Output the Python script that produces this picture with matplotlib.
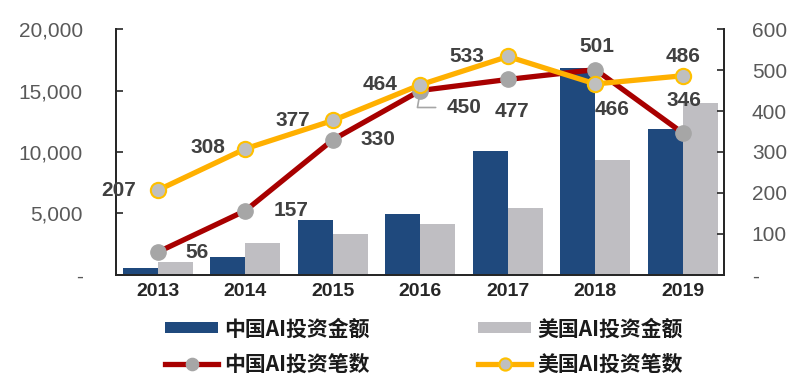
import matplotlib
matplotlib.use("Agg")
import matplotlib.pyplot as plt
import numpy as np
from matplotlib.ticker import FuncFormatter, MultipleLocator

years = ["2013", "2014", "2015", "2016", "2017", "2018", "2019"]
cn_amount = [570, 1440, 4470, 4930, 10100, 16800, 11850]
us_amount = [1080, 2580, 3310, 4120, 5420, 9350, 14000]
cn_count = [56, 157, 330, 450, 477, 501, 346]
us_count = [207, 308, 377, 464, 533, 466, 486]
legend_labels = ["中国AI投资金额", "美国AI投资金额", "中国AI投资笔数", "美国AI投资笔数"]

# label offsets (pixels)
cn_off = [(39, 0), (46, 0), (45, 0), (44, -17), (4, -32), (2, 23), (1, 33)]
us_off = [(-39, 0), (-38, 1), (-40, 0), (-40, 0), (-41, 0), (17, -26), (0, 19)]

fig = plt.figure(figsize=(8, 3.92), dpi=100)
ax = fig.add_axes([0.145, 0.2985, 0.76, 0.6275])
ax2 = ax.twinx()

x = np.arange(len(years))
w = 0.4
b1 = ax.bar(x - w / 2, cn_amount, w, color="#1f497d", label=legend_labels[0], zorder=2)
b2 = ax.bar(x + w / 2, us_amount, w, color="#bfbec2", label=legend_labels[1], zorder=2)

l1, = ax2.plot(x, cn_count, color="#a80000", lw=3.8, marker="o", ms=11,
               mfc="#a6a6a6", mec="#a6a6a6", label=legend_labels[2], zorder=3)
l2, = ax2.plot(x, us_count, color="#ffb000", lw=3.8, marker="o", ms=11,
               mfc="#bfbfbf", mec="#ffc000", mew=1.5, label=legend_labels[3], zorder=4)

num_font = dict(family="Liberation Sans", fontsize=15, fontweight="bold", color="#404040")
for i, v in enumerate(cn_count):
    ax2.annotate(str(v), (x[i], v), xytext=cn_off[i], textcoords="offset pixels",
                 ha="center", va="center", zorder=5, **num_font)
for i, v in enumerate(us_count):
    ax2.annotate(str(v), (x[i], v), xytext=us_off[i], textcoords="offset pixels",
                 ha="center", va="center", zorder=5, **num_font)

# small leader line for the 2016 China label
ax2.annotate("", xy=(x[3], cn_count[3]), xytext=(18, -17), textcoords="offset pixels",
             arrowprops=dict(arrowstyle="-", color="#a6a6a6", lw=1.2,
                             connectionstyle="angle,angleA=0,angleB=80,rad=0"),
             zorder=2)

ax.set_xlim(-0.48, 6.47)
ax.set_ylim(0, 20000)
ax2.set_ylim(0, 600)
ax.yaxis.set_major_locator(MultipleLocator(5000))
ax2.yaxis.set_major_locator(MultipleLocator(100))
ax.yaxis.set_major_formatter(FuncFormatter(lambda v, p: "-" if v == 0 else f"{int(v):,}"))
ax2.yaxis.set_major_formatter(FuncFormatter(lambda v, p: "-" if v == 0 else f"{int(v)}"))

ax.set_xticks(x)
ax.set_xticklabels(years)
for t in ax.get_xticklabels():
    t.set_fontfamily("Liberation Sans"); t.set_fontsize(14); t.set_fontweight("bold"); t.set_color("#262626")
for t in ax.get_yticklabels() + ax2.get_yticklabels():
    t.set_fontfamily("Liberation Sans"); t.set_fontsize(15); t.set_color("#595959")

ax.tick_params(axis="x", length=0, pad=6)
ax.tick_params(axis="y", direction="in", length=5, width=1.2, color="#262626", pad=24)
ax2.tick_params(axis="y", direction="in", length=5, width=1.2, color="#262626", pad=20)

for a in (ax, ax2):
    a.spines["top"].set_visible(False)
    for s in ("left", "right", "bottom"):
        a.spines[s].set_color("#262626")
        a.spines[s].set_linewidth(1.3)

leg = fig.legend([b1, l1, b2, l2], [legend_labels[0], legend_labels[2], legend_labels[1], legend_labels[3]],
                 loc="lower left", bbox_to_anchor=(0.183, -0.003), ncol=2, frameon=False,
                 prop=dict(family=["Noto Sans CJK SC", "DejaVu Sans"], size=15, weight="bold"),
                 handlelength=2.55, handleheight=0.45, handletextpad=0.3, markerscale=0.8,
                 columnspacing=5.2, labelspacing=0.68)
for t in leg.get_texts():
    t.set_color("#1a1a1a")

fig.savefig("out.png", dpi=100)
